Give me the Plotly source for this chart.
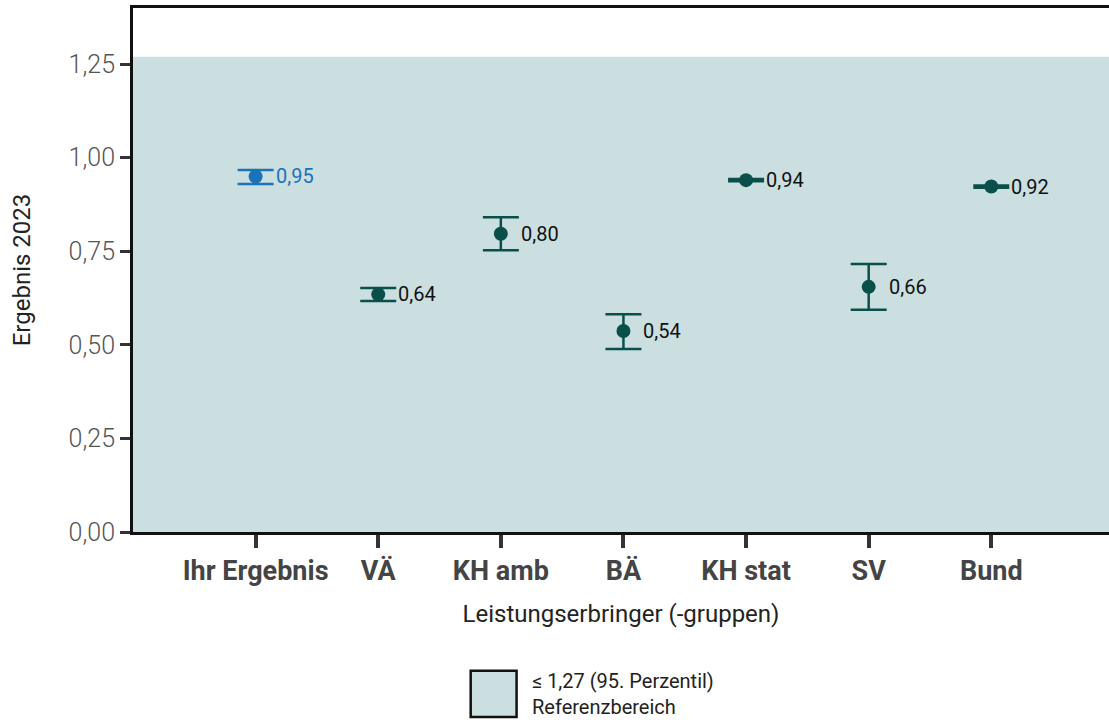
import plotly.graph_objects as go

categories = ["Ihr Ergebnis", "VÄ", "KH amb", "BÄ", "KH stat", "SV", "Bund"]
values = [0.95, 0.635, 0.797, 0.537, 0.940, 0.655, 0.923]
ci_low = [0.930, 0.617, 0.753, 0.489, 0.937, 0.594, 0.920]
ci_high = [0.967, 0.652, 0.841, 0.582, 0.943, 0.716, 0.926]
labels = ["0,95", "0,64", "0,80", "0,54", "0,94", "0,66", "0,92"]
reference_upper = 1.27
legend_text = "≤ 1,27 (95. Perzentil)<br>Referenzbereich"

BLUE = "#1a73b8"
GREEN = "#0b4f4a"
SHADE = "#cbdfe1"
FONT = "Roboto"

colors = [BLUE] + [GREEN] * (len(categories) - 1)
xs = list(range(len(categories)))

fig = go.Figure()

for i, (c, v, lo, hi, col) in enumerate(zip(categories, values, ci_low, ci_high, colors)):
    fig.add_trace(go.Scatter(
        x=[i], y=[v], mode="markers",
        marker=dict(size=14, color=col),
        error_y=dict(type="data", symmetric=False,
                     array=[hi - v], arrayminus=[v - lo],
                     color=col, thickness=2.5, width=18),
        showlegend=False, hoverinfo="skip",
    ))
    fig.add_annotation(x=i, y=v, text=labels[i], showarrow=False,
                       xanchor="left", yanchor="middle", xshift=18,
                       font=dict(family=FONT, size=20,
                                 color=BLUE if i == 0 else "#111111"))

# Reference area
fig.add_shape(type="rect", xref="paper", yref="y", x0=0, x1=1,
              y0=0, y1=reference_upper, fillcolor=SHADE,
              line=dict(width=0), layer="below")

# Legend box
fig.add_shape(type="rect", xref="paper", yref="paper",
              x0=0.346, x1=0.393, y0=-0.353, y1=-0.265,
              fillcolor=SHADE, line=dict(color="#111111", width=2.5))
fig.add_annotation(xref="paper", yref="paper", x=0.407, y=-0.309,
                   text=legend_text, showarrow=False, align="left",
                   xanchor="left", yanchor="middle",
                   font=dict(family=FONT, size=20, color="#222222"))

fig.update_layout(
    width=1109, height=722,
    margin=dict(l=133, r=0, t=8, b=190),
    plot_bgcolor="white", paper_bgcolor="white",
    separators=",.",
    font=dict(family=FONT, color="#444444"),
    xaxis=dict(
        range=[-1, 6.96], tickmode="array", tickvals=xs,
        ticktext=["<b>%s</b>" % c for c in categories],
        tickfont=dict(family=FONT, size=27, color="#444444"),
        ticks="outside", ticklen=13, tickwidth=4, tickcolor="#333333",
        showline=True, linecolor="#111111", linewidth=3, mirror=True,
        showgrid=False, zeroline=False,
        title=dict(text="Leistungserbringer (-gruppen)",
                   font=dict(family=FONT, size=24, color="#222222"),
                   standoff=19),
    ),
    yaxis=dict(
        range=[0, 1.4], tickmode="linear", tick0=0, dtick=0.25,
        tickformat=".2f",
        tickfont=dict(family=FONT, size=25, color="#555555", weight=300),
        ticks="outside", ticklen=10, tickwidth=3, tickcolor="#333333",
        showline=True, linecolor="#111111", linewidth=3, mirror=False,
        showgrid=False, zeroline=False,
        title=dict(text="Ergebnis 2023",
                   font=dict(family=FONT, size=24, color="#222222"),
                   standoff=32),
    ),
)

fig.write_html("out.html", config={"displayModeBar": False},
               post_script="document.body.style.margin='0';")
